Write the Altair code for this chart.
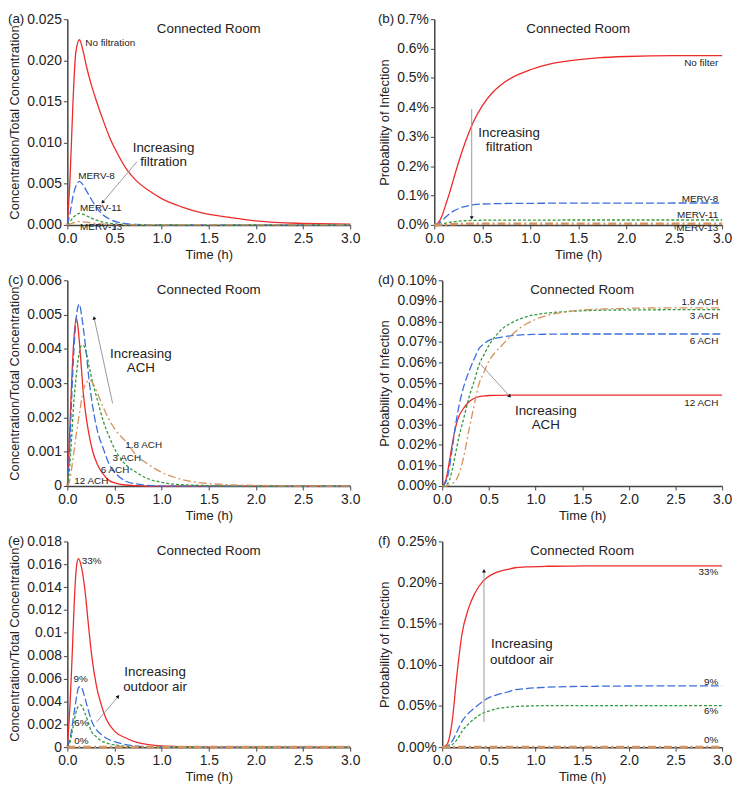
import math
import altair as alt
import pandas as pd

FONT = "Liberation Sans"
TXT = "#222222"
COLORS = ["#ee2b2b", "#3c6fdc", "#2f9a3c", "#d4925f"]
DASHES = [None, [8, 3], [3, 2], [8, 3, 2, 3]]
X_TICKS = [0, 0.5, 1.0, 1.5, 2.0, 2.5, 3.0]

# ---------------- (a) concentration, filtration ----------------
A_T = [0, 0.03, 0.06, 0.09, 0.128, 0.17, 0.2, 0.25, 0.31, 0.38, 0.45, 0.53, 0.62, 0.72, 0.86, 1.0, 1.21, 1.45, 1.73, 2.0, 2.43, 3.0]
A_NAMES = ["No filtration", "MERV-8", "MERV-11", "MERV-13"]
A_NOFILT = [0, 0.0060, 0.0150, 0.0210, 0.0225, 0.0210, 0.0194, 0.0172, 0.0150, 0.0127, 0.0106, 0.0087, 0.0069, 0.0055, 0.0042, 0.0032, 0.0022, 0.0014, 0.0009, 0.0005, 0.0002, 0.0001]
A_MERV8 = [0, 0.0015, 0.0035, 0.0047, 0.0053, 0.0048, 0.0042, 0.0032, 0.0021, 0.0012, 0.0007, 0.00035, 0.00015, 0.00006, 0.00002, 0, 0, 0, 0, 0, 0, 0]
A_MERV11 = [0, 0.0004, 0.0009, 0.0012, 0.0014, 0.00128, 0.00112, 0.00086, 0.00058, 0.00034, 0.0002, 0.0001, 0.00004, 0.00002, 0, 0, 0, 0, 0, 0, 0, 0]
A_MERV13 = [0, 0.0001, 0.00025, 0.00035, 0.0004, 0.00037, 0.00033, 0.00026, 0.00018, 0.0001, 0.00006, 0.00003, 0.00001, 0, 0, 0, 0, 0, 0, 0, 0, 0]
A_YTICKS = [0, 0.005, 0.010, 0.015, 0.020, 0.025]
A_LAB_T = [0.19, 0.115, 0.135, 0.135]
A_LAB_V = [0.0221, 0.0059, 0.0020, -0.00022]
A_ANN = ["Increasing", "filtration"]
A_ANN_T = [1.02, 1.02]
A_ANN_V = [0.0094, 0.0076]
A_ARROW = [0.74, 0.0077, 0.378, 0.0028]

# ---------------- (b) probability, filtration (percent) ----------------
B_T = [0, 0.035, 0.08, 0.12, 0.16, 0.2, 0.25, 0.3, 0.35, 0.4, 0.5, 0.6, 0.7, 0.85, 1.0, 1.2, 1.4, 1.7, 2.0, 2.5, 3.0]
B_NAMES = ["No filter", "MERV-8", "MERV-11", "MERV-13"]
B_NOFILT = [0, 0.005, 0.03, 0.07, 0.11, 0.155, 0.21, 0.26, 0.305, 0.345, 0.405, 0.448, 0.478, 0.508, 0.528, 0.547, 0.558, 0.568, 0.573, 0.576, 0.576]
B_MERV8 = [0, 0.003, 0.014, 0.027, 0.038, 0.047, 0.055, 0.061, 0.065, 0.068, 0.071, 0.072, 0.0727, 0.0732, 0.0735, 0.0738, 0.074, 0.0742, 0.0744, 0.0745, 0.0745]
B_MERV11 = [0, 0.0005, 0.003, 0.006, 0.009, 0.011, 0.0128, 0.014, 0.0148, 0.0153, 0.0159, 0.0162, 0.0164, 0.0165, 0.0166, 0.0166, 0.0167, 0.0167, 0.0167, 0.0167, 0.0167]
B_MERV13 = [0, 0.0001, 0.0007, 0.0015, 0.0022, 0.0027, 0.0032, 0.0035, 0.0037, 0.0038, 0.0039, 0.004, 0.004, 0.004, 0.0041, 0.0041, 0.0041, 0.0041, 0.0041, 0.0041, 0.0041]
B_YTICKS = [0, 0.1, 0.2, 0.3, 0.4, 0.5, 0.6, 0.7]
B_LAB_T = [2.96, 2.96, 2.96, 2.96]
B_LAB_V = [0.552, 0.0887, 0.0329, -0.011]
B_ANN = ["Increasing", "filtration"]
B_ANN_T = [0.78, 0.78]
B_ANN_V = [0.312, 0.266]
B_ARROW = [0.39, 0.394, 0.39, 0.026]

# ---------------- (c) concentration, ACH ----------------
C_T = [0, 0.02, 0.045, 0.07, 0.094, 0.11, 0.128, 0.15, 0.17, 0.2, 0.23, 0.27, 0.32, 0.38, 0.45, 0.52, 0.62, 0.73, 0.85, 1.0, 1.2, 1.4, 1.7, 2.0, 2.5, 3.0]
C_NAMES = ["12 ACH", "6 ACH", "3 ACH", "1.8 ACH"]
C_12 = [0, 0.0012, 0.0030, 0.0043, 0.0049, 0.0047, 0.0042, 0.0034, 0.0027, 0.0020, 0.0015, 0.0010, 0.00062, 0.00035, 0.00015, 0.00008, 0.00003, 0.00001, 0, 0, 0, 0, 0, 0, 0, 0]
C_6 = [0, 0.0008, 0.0025, 0.0040, 0.0049, 0.0052, 0.0053, 0.0050, 0.0046, 0.0039, 0.0031, 0.0023, 0.0016, 0.0011, 0.0006, 0.00035, 0.00014, 0.00006, 0.00002, 0, 0, 0, 0, 0, 0, 0]
C_3 = [0, 0.0004, 0.0014, 0.0025, 0.0032, 0.0036, 0.0039, 0.0041, 0.0041, 0.0039, 0.0035, 0.0030, 0.0025, 0.0019, 0.0014, 0.00099, 0.00062, 0.0004, 0.00022, 0.00011, 0.00004, 0.00002, 0, 0, 0, 0]
C_18 = [0, 0.0001, 0.0005, 0.0010, 0.0015, 0.0018, 0.0021, 0.0025, 0.0028, 0.0030, 0.0031, 0.0030, 0.0027, 0.0023, 0.0019, 0.0016, 0.0013, 0.0009, 0.00065, 0.0004, 0.0002, 0.0001, 0.00004, 0.00002, 0, 0]
C_YTICKS = [0, 0.001, 0.002, 0.003, 0.004, 0.005, 0.006]
C_LAB_T = [0.073, 0.354, 0.479, 0.615]
C_LAB_V = [0.00016, 0.00047, 0.00081, 0.00121]
C_ANN = ["Increasing", "ACH"]
C_ANN_T = [0.78, 0.78]
C_ANN_V = [0.00385, 0.00345]
C_ARROW = [0.48, 0.00241, 0.285, 0.00489]

# ---------------- (d) probability, ACH (percent) ----------------
D_T = [0, 0.04, 0.078, 0.11, 0.148, 0.18, 0.22, 0.29, 0.35, 0.395, 0.45, 0.5, 0.57, 0.64, 0.73, 0.82, 0.91, 1.0, 1.15, 1.35, 1.5, 1.75, 2.0, 2.5, 3.0]
D_NAMES = ["12 ACH", "6 ACH", "3 ACH", "1.8 ACH"]
D_12 = [0, 0.003, 0.0122, 0.021, 0.0294, 0.034, 0.0372, 0.0411, 0.0428, 0.0435, 0.0438, 0.044, 0.0441, 0.0441, 0.0442, 0.0442, 0.0442, 0.0442, 0.0442, 0.0442, 0.0442, 0.0442, 0.0442, 0.0442, 0.0442]
D_6 = [0, 0.002, 0.0091, 0.019, 0.031, 0.039, 0.0466, 0.056, 0.0625, 0.0669, 0.0692, 0.0708, 0.0718, 0.0724, 0.073, 0.0734, 0.0736, 0.0737, 0.0738, 0.0739, 0.0739, 0.0739, 0.0739, 0.0739, 0.0739]
D_3 = [0, 0.0005, 0.0028, 0.0085, 0.0169, 0.024, 0.031, 0.0435, 0.052, 0.059, 0.064, 0.0684, 0.0728, 0.0763, 0.079, 0.081, 0.0824, 0.0833, 0.0842, 0.0848, 0.0852, 0.0855, 0.0856, 0.0857, 0.0857]
D_18 = [0, 0, 0.0005, 0.0012, 0.0028, 0.006, 0.0122, 0.0278, 0.041, 0.0497, 0.0555, 0.0607, 0.065, 0.0684, 0.0727, 0.0763, 0.079, 0.081, 0.0832, 0.0848, 0.0856, 0.0861, 0.0864, 0.0866, 0.0866]
D_YTICKS = [0, 0.01, 0.02, 0.03, 0.04, 0.05, 0.06, 0.07, 0.08, 0.09, 0.10]
D_LAB_T = [2.96, 2.96, 2.96, 2.96]
D_LAB_V = [0.0403, 0.0705, 0.0828, 0.0893]
D_ANN = ["Increasing", "ACH"]
D_ANN_T = [1.11, 1.11]
D_ANN_V = [0.0364, 0.0297]
D_ARROW = [0.413, 0.0591, 0.72, 0.0438]

# ---------------- (e) concentration, outdoor air ----------------
E_T = [0, 0.03, 0.05, 0.075, 0.1, 0.118, 0.14, 0.19, 0.22, 0.257, 0.31, 0.36, 0.41, 0.5, 0.62, 0.74, 0.86, 1.0, 1.2, 1.5, 2.0, 3.0]
E_NAMES = ["33%", "9%", "6%", "0%"]
E_33 = [0, 0.004, 0.0078, 0.013, 0.016, 0.0165, 0.0161, 0.0135, 0.011, 0.0081, 0.0053, 0.0037, 0.0025, 0.0014, 0.0008, 0.00042, 0.00023, 0.0001, 0.00004, 0.00001, 0, 0]
E_9 = [0, 0.0008, 0.0018, 0.0032, 0.0045, 0.0052, 0.0053, 0.0042, 0.0033, 0.0023, 0.0015, 0.0011, 0.0008, 0.00048, 0.00022, 0.00009, 0.00004, 0.00001, 0, 0, 0, 0]
E_6 = [0, 0.0005, 0.0013, 0.0024, 0.0033, 0.0036, 0.0037, 0.0029, 0.0022, 0.00135, 0.0009, 0.00055, 0.00038, 0.0002, 0.00008, 0.00003, 0.00001, 0, 0, 0, 0, 0]
E_0 = [0, 0, 0, 0, 0, 0, 0, 0, 0, 0, 0, 0, 0, 0, 0, 0, 0, 0, 0, 0, 0, 0]
E_YTICKS = [0, 0.002, 0.004, 0.006, 0.008, 0.010, 0.012, 0.014, 0.016, 0.018]
E_LAB_T = [0.153, 0.066, 0.073, 0.073]
E_LAB_V = [0.0163, 0.00595, 0.00212, 0.00051]
E_ANN = ["Increasing", "outdoor air"]
E_ANN_T = [0.93, 0.93]
E_ANN_V = [0.00658, 0.00525]
E_ARROW = [0.31, 0.0022, 0.535, 0.0044]

# ---------------- (f) probability, outdoor air (percent) ----------------
F_T = [0, 0.05, 0.106, 0.159, 0.21, 0.28, 0.35, 0.44, 0.52, 0.6, 0.7, 0.78, 0.9, 1.13, 1.4, 1.66, 2.0, 2.5, 3.0]
F_NAMES = ["33%", "9%", "6%", "0%"]
F_33 = [0, 0.003, 0.0306, 0.0893, 0.136, 0.168, 0.187, 0.202, 0.209, 0.213, 0.216, 0.218, 0.219, 0.2198, 0.2201, 0.2202, 0.2202, 0.2202, 0.2202]
F_9 = [0, 0.001, 0.007, 0.019, 0.031, 0.041, 0.048, 0.056, 0.061, 0.064, 0.067, 0.0698, 0.0712, 0.0729, 0.0737, 0.074, 0.0743, 0.0745, 0.0745]
F_6 = [0, 0.0005, 0.003, 0.009, 0.0188, 0.028, 0.035, 0.0415, 0.0445, 0.047, 0.0485, 0.0494, 0.0499, 0.0505, 0.0505, 0.0505, 0.0505, 0.0505, 0.0505]
F_0 = [0, 0, 0, 0, 0, 0, 0, 0, 0, 0, 0, 0, 0, 0, 0, 0, 0, 0, 0]
F_YTICKS = [0, 0.05, 0.10, 0.15, 0.20, 0.25]
F_LAB_T = [2.96, 2.96, 2.96, 2.96]
F_LAB_V = [0.2127, 0.0796, 0.0435, 0.009]
F_ANN = ["Increasing", "outdoor air"]
F_ANN_T = [0.854, 0.854]
F_ANN_V = [0.1254, 0.1058]
F_ARROW = [0.448, 0.0306, 0.448, 0.2136]

H = 208
TITLE_PAD = 3


def make_panel(letter, t, names, series, ytitle, ymax, yticks, label_expr, W, E,
               lab_t, lab_v, lab_align, ann, ann_t, ann_v, arrow, widths):
    x_enc = alt.X("t:Q", scale=alt.Scale(domain=[0, 3], nice=False, zero=False),
                  axis=alt.Axis(values=X_TICKS, format=".1f", title="Time (h)",
                                labelFlush=False, titleFontWeight=400, labelPadding=3))
    y_enc = alt.Y("v:Q", scale=alt.Scale(domain=[0, ymax], nice=False),
                  axis=alt.Axis(values=yticks, labelExpr=label_expr, title=ytitle,
                                minExtent=E, maxExtent=E, labelFlush=False,
                                titleFontWeight=400))
    rows = []
    for name, vals in zip(names, series):
        for ti, vi in zip(t, vals):
            rows.append({"t": ti, "v": vi, "s": name})
    df = pd.DataFrame(rows)
    layers = []
    for i, name in enumerate(names):
        kw = dict(color=COLORS[i], strokeWidth=widths[i], interpolate="monotone")
        if DASHES[i] is not None:
            kw["strokeDash"] = DASHES[i]
        layers.append(
            alt.Chart(df).transform_filter(alt.FieldEqualPredicate(field="s", equal=name))
            .mark_line(**kw).encode(x=x_enc, y=y_enc)
        )
    # series labels
    lab_df = pd.DataFrame({"t": lab_t, "v": lab_v, "txt": names})
    layers.append(alt.Chart(lab_df).mark_text(align=lab_align, baseline="middle", fontSize=10,
                                              font=FONT, color=TXT)
                  .encode(x=x_enc, y=y_enc, text="txt:N"))
    # annotation text
    ann_df = pd.DataFrame({"t": ann_t, "v": ann_v, "txt": ann})
    layers.append(alt.Chart(ann_df).mark_text(align="center", baseline="middle", fontSize=13.5,
                                              font=FONT, color=TXT)
                  .encode(x=x_enc, y=y_enc, text="txt:N"))
    # arrow
    t1, v1, t2, v2 = arrow
    arr_df = pd.DataFrame({"t": [t1], "v": [v1], "t2": [t2], "v2": [v2]})
    layers.append(alt.Chart(arr_df).mark_rule(color="#9a9a9a", strokeWidth=1)
                  .encode(x=x_enc, y=y_enc, x2="t2:Q", y2="v2:Q"))
    dx = (t2 - t1) / 3.0 * W
    dy = -(v2 - v1) / ymax * H
    ang = math.degrees(math.atan2(dx, -dy)) % 360
    head_df = pd.DataFrame({"t": [t2], "v": [v2]})
    layers.append(alt.Chart(head_df).mark_point(shape="triangle", filled=True, size=16,
                                                color="#111111", opacity=1, angle=ang)
                  .encode(x=x_enc, y=y_enc))
    # panel title and letter
    ttl_df = pd.DataFrame({"txt": ["Connected Room"]})
    layers.append(alt.Chart(ttl_df).mark_text(align="center", baseline="middle", fontSize=13.5,
                                              font=FONT, color=TXT)
                  .encode(x=alt.value(W / 2), y=alt.value(10), text="txt:N"))
    let_df = pd.DataFrame({"txt": [letter]})
    layers.append(alt.Chart(let_df).mark_text(align="left", baseline="middle", fontSize=13.5,
                                              font=FONT, color=TXT)
                  .encode(x=alt.value(-(E + TITLE_PAD + 14)), y=alt.value(0), text="txt:N"))
    return alt.layer(*layers).properties(width=W, height=H)


CONC = "Concentration/Total Concentration"
PROB = "Probability of Infection"
THIN = [1.3, 1.3, 1.3, 1.3]
THICK = [1.3, 1.3, 1.3, 2.6]

pa = make_panel("(a)", A_T, A_NAMES, [A_NOFILT, A_MERV8, A_MERV11, A_MERV13], CONC, 0.025, A_YTICKS,
                "format(datum.value, '.3f')", 286, 43, A_LAB_T, A_LAB_V, "left",
                A_ANN, A_ANN_T, A_ANN_V, A_ARROW, THIN)
pb = make_panel("(b)", B_T, B_NAMES, [B_NOFILT, B_MERV8, B_MERV11, B_MERV13], PROB, 0.7, B_YTICKS,
                "format(datum.value, '.1f') + '%'", 291, 40, B_LAB_T, B_LAB_V, "right",
                B_ANN, B_ANN_T, B_ANN_V, B_ARROW, THICK)
pc = make_panel("(c)", C_T, C_NAMES, [C_12, C_6, C_3, C_18], CONC, 0.006, C_YTICKS,
                "format(datum.value, '.3~f')", 286, 43, C_LAB_T, C_LAB_V, "left",
                C_ANN, C_ANN_T, C_ANN_V, C_ARROW, THIN)
pd_ = make_panel("(d)", D_T, D_NAMES, [D_12, D_6, D_3, D_18], PROB, 0.10, D_YTICKS,
                 "format(datum.value, '.2f') + '%'", 283, 48, D_LAB_T, D_LAB_V, "right",
                 D_ANN, D_ANN_T, D_ANN_V, D_ARROW, THIN)
pe = make_panel("(e)", E_T, E_NAMES, [E_33, E_9, E_6, E_0], CONC, 0.018, E_YTICKS,
                "format(datum.value, '.3~f')", 286, 43, E_LAB_T, E_LAB_V, "left",
                E_ANN, E_ANN_T, E_ANN_V, E_ARROW, THICK)
pf = make_panel("(f)", F_T, F_NAMES, [F_33, F_9, F_6, F_0], PROB, 0.25, F_YTICKS,
                "format(datum.value, '.2f') + '%'", 283, 48, F_LAB_T, F_LAB_V, "right",
                F_ANN, F_ANN_T, F_ANN_V, F_ARROW, THICK)

row1 = alt.hconcat(pa, pb, spacing=18)
row2 = alt.hconcat(pc, pd_, spacing=18)
row3 = alt.hconcat(pe, pf, spacing=18)

chart = (
    alt.vconcat(row1, row2, row3, spacing=12)
    .properties(padding=0)
    .configure_view(stroke=None)
    .configure_axis(
        labelFont=FONT, titleFont=FONT, labelFontSize=14, titleFontSize=13,
        titleFontWeight="normal", labelColor=TXT, titleColor=TXT,
        domainColor="#444444", domainWidth=1.5, tickColor="#444444", tickSize=4,
        grid=False, labelPadding=2, titlePadding=TITLE_PAD,
    )
)

chart.save("out.html", embed_options={"renderer": "svg", "actions": False})
